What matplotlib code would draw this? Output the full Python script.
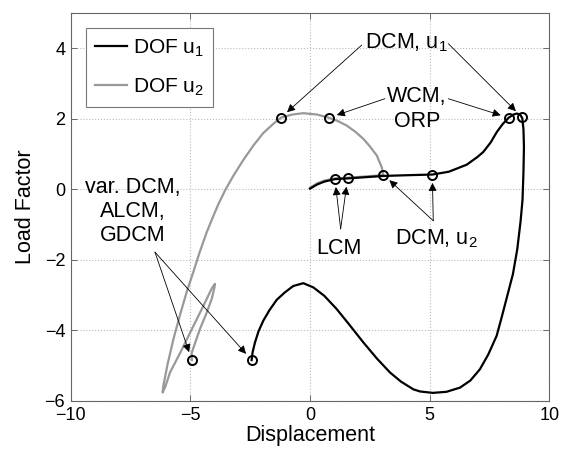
import numpy as np
import matplotlib.pyplot as plt

plt.rcParams['font.family'] = ['Liberation Sans', 'DejaVu Sans']
plt.rcParams['mathtext.fontset'] = 'custom'
plt.rcParams['mathtext.rm'] = 'Liberation Sans'
plt.rcParams['mathtext.it'] = 'Liberation Sans'

# equilibrium path, DOF u1 (displacement vs load factor)
u1_disp = [0.0, 0.3, 0.6, 1.04, 1.57, 2.2, 3.06, 4.0, 5.11, 5.8, 6.55, 7.0, 7.24,
           7.55, 7.80, 8.05, 8.30, 8.50, 8.64, 8.78, 8.87, 8.92, 8.94, 8.92, 8.88,
           8.80, 8.66, 8.48, 8.25, 8.02, 7.80, 7.45, 7.10, 6.7, 6.27, 5.7, 5.13,
           4.6, 4.32, 3.8, 3.34, 2.8, 2.23, 1.6, 1.11, 0.6, 0.14, -0.28, -0.7,
           -1.05, -1.39, -1.7, -1.95, -2.15, -2.30, -2.40, -2.44]
u1_load = [0.02, 0.14, 0.22, 0.29, 0.31, 0.34, 0.38, 0.40, 0.42, 0.50, 0.70, 0.92,
           1.06, 1.33, 1.62, 1.85, 2.03, 2.12, 2.15, 2.12, 2.02, 1.70, 1.20, 0.50,
           -0.30, -0.90, -1.70, -2.40, -3.00, -3.60, -4.15, -4.68, -5.10, -5.42,
           -5.62, -5.74, -5.77, -5.73, -5.67, -5.45, -5.19, -4.80, -4.34, -3.80,
           -3.39, -3.02, -2.78, -2.66, -2.74, -2.92, -3.13, -3.43, -3.72, -4.02,
           -4.34, -4.62, -4.84]

# equilibrium path, DOF u2
u2_disp = [0.0, 0.3, 0.6, 1.04, 1.57, 2.2, 2.8, 3.06, 3.0, 2.79, 2.5, 2.23, 1.9,
           1.53, 1.15, 0.79, 0.3, -0.28, -0.75, -1.22, -1.53, -1.95, -2.37, -2.8,
           -3.20, -3.55, -3.83, -4.08, -4.32, -4.62, -4.88, -5.15, -5.45, -5.71,
           -5.95, -6.13, -6.16, -6.05, -5.85, -5.40, -5.01, -4.60, -4.32, -4.10,
           -3.97, -4.00, -4.11, -4.35, -4.60, -4.80, -4.94, -4.94]
u2_load = [0.05, 0.17, 0.25, 0.31, 0.33, 0.36, 0.39, 0.42, 0.62, 0.96, 1.22, 1.43,
           1.63, 1.81, 1.94, 2.03, 2.12, 2.16, 2.12, 2.03, 1.86, 1.60, 1.24, 0.82,
           0.39, -0.03, -0.42, -0.82, -1.22, -1.80, -2.35, -2.90, -3.60, -4.25,
           -4.95, -5.57, -5.76, -5.60, -5.19, -4.60, -4.06, -3.50, -3.11, -2.80,
           -2.68, -2.80, -3.11, -3.55, -3.96, -4.35, -4.63, -4.84]

# marked solution points
mark_disp = [-1.22, 8.85, 0.79, 8.30, 1.04, 1.57, 3.06, 5.11, -4.94, -2.44]
mark_load = [2.03, 2.05, 2.03, 2.03, 0.30, 0.31, 0.42, 0.42, -4.84, -4.84]

# label text, text position, arrow start, indices of marked points
notes = [
    ('DCM, u$_1$', (4.04, 4.01), 'baseline', (2.16, 4.09), [0]),
    ('DCM, u$_1$', None, None, (5.78, 4.13), [1]),
    ('WCM,\nORP', (4.46, 2.28), 'center', (3.13, 2.57), [2]),
    ('', None, None, (5.78, 2.57), [3]),
    ('LCM', (1.20, -1.83), 'baseline', (1.28, -1.12), [4, 5]),
    ('DCM, u$_2$', (5.30, -1.55), 'baseline', (5.15, -0.89), [6, 7]),
    ('var. DCM,\nALCM,\nGDCM', (-7.40, -0.62), 'center', (-6.48, -1.78), [8, 9]),
]

fig = plt.figure(figsize=(5.69, 4.53), dpi=100)
ax = fig.add_axes([0.1243, 0.1148, 0.8411, 0.8565])

ax.plot(u2_disp, u2_load, color='#999999', lw=1.6, label='DOF u$_2$', zorder=2)
ax.plot(u1_disp, u1_load, color='k', lw=1.6, label='DOF u$_1$', zorder=3)
ax.plot(mark_disp, mark_load, 'o', ms=6.5, mfc='none', mec='k', mew=1.4, zorder=4)

for txt, pos, va, start, idx in notes:
    if pos is not None:
        ax.text(pos[0], pos[1], txt, fontsize=15.5, ha='center', va=va, zorder=5)
    for i in idx:
        ax.annotate('', xy=(mark_disp[i], mark_load[i]), xytext=start,
                    arrowprops=dict(arrowstyle='-|>', lw=0.6, color='k',
                                    mutation_scale=12, shrinkA=0, shrinkB=6),
                    zorder=5)

ax.set_xlim(-10, 10)
ax.set_ylim(-6, 5)
ax.set_xticks([-10, -5, 0, 5, 10])
ax.set_yticks([-6, -4, -2, 0, 2, 4])
ax.tick_params(direction='in', top=True, right=True, labelsize=13, length=4,
               width=0.6, color='#555555', pad=4)
ax.grid(True, linestyle=':', color='#bbbbbb', lw=0.8)
for s in ax.spines.values():
    s.set_color('#666666')
    s.set_linewidth(0.8)

ax.set_xlabel('Displacement', fontsize=15.5, labelpad=1)
ax.set_ylabel('Load Factor', fontsize=15.5, labelpad=6)

h, l = ax.get_legend_handles_labels()
leg = ax.legend(h[::-1], l[::-1], loc='upper left', bbox_to_anchor=(0.032, 0.961),
                borderaxespad=0, fontsize=15, handlelength=1.5, handletextpad=0.3,
                labelspacing=0.85, borderpad=0.45, fancybox=False,
                framealpha=1, edgecolor='#777777')
leg.get_frame().set_linewidth(0.8)

fig.savefig('out.png', dpi=100)
